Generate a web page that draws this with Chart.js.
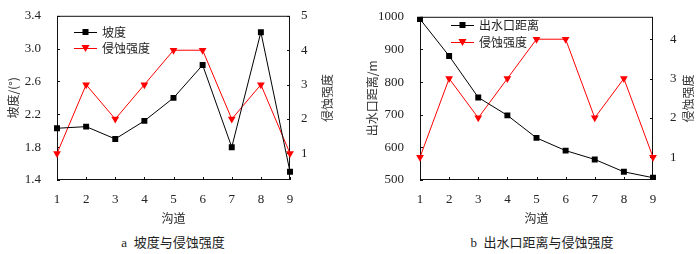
<!DOCTYPE html>
<html>
<head>
<meta charset="utf-8">
<script src="https://cdn.jsdelivr.net/npm/chart.js@4/dist/chart.umd.min.js"></script>
<style>
    body { margin: 0; background: #fff; width: 699px; height: 254px; overflow: hidden; position: relative;
           font-family: "Liberation Serif", "Noto Sans CJK SC", serif; color: #222; }
    .panel { position: absolute; top: 0; width: 349px; height: 230px; }
    .cap { position: absolute; top: 234px; width: 300px; text-align: center; font-size: 13px; line-height: 18px; }
</style>
</head>
<body>
<div class="panel" style="left:0"><canvas id="chartA" width="349" height="230"></canvas></div>
<div class="panel" style="left:350px"><canvas id="chartB" width="349" height="230"></canvas></div>
<div class="cap" style="left:23px">a&nbsp;&nbsp;坡度与侵蚀强度</div>
<div class="cap" style="left:392px">b&nbsp;&nbsp;出水口距离与侵蚀强度</div>

<script>
// Données
const gullies = ['1', '2', '3', '4', '5', '6', '7', '8', '9'];
const slope = [2.03, 2.05, 1.90, 2.12, 2.40, 2.80, 1.80, 3.20, 1.50];
const erosion = [1, 3, 2, 3, 4, 4, 2, 3, 1];
const outletDist = [993, 880, 753, 698, 629, 590, 563, 525, 507];

const slopeTicks = [1.4, 1.8, 2.2, 2.6, 3.0, 3.4];
const distTicks = [500, 600, 700, 800, 900, 1000];
const erosionTicksA = [1, 2, 3, 4, 5];
const erosionTicksB = [1, 2, 3, 4];

const SERIF = '"Liberation Serif", "Noto Sans CJK SC", serif';
const CJK = '"Noto Sans CJK SC", sans-serif';
const TEXT = '#222';

// cadre + petites graduations vers l'intérieur
const framePlugin = {
    id: 'frame',
    beforeDatasetsDraw(chart) {
        const a = chart.chartArea;
        const ctx = chart.ctx;
        ctx.save();
        ctx.strokeStyle = '#111';
        ctx.lineWidth = 1;
        ctx.strokeRect(a.left + 0.5, a.top + 0.5, a.right - a.left - 1, a.bottom - a.top - 1);
        ctx.beginPath();
        ['y', 'y1'].forEach(id => {
            const s = chart.scales[id];
            s.ticks.forEach(t => {
                const py = Math.round(s.getPixelForValue(t.value)) + 0.5;
                if (id === 'y') { ctx.moveTo(a.left, py); ctx.lineTo(a.left + 3, py); }
                else { ctx.moveTo(a.right, py); ctx.lineTo(a.right - 3, py); }
            });
        });
        const sx = chart.scales.x;
        gullies.forEach((g, i) => {
            const px = Math.round(sx.getPixelForValue(i)) + 0.5;
            ctx.moveTo(px, a.bottom);
            ctx.lineTo(px, a.bottom - 3);
        });
        ctx.stroke();
        ctx.restore();
    }
};

function drawMarker(ctx, style, x, y, color) {
    ctx.fillStyle = color;
    if (style === 'rect') {
        ctx.fillRect(x - 3, y - 3, 6, 6);
    } else {
        ctx.beginPath();
        ctx.moveTo(x - 4, y - 3);
        ctx.lineTo(x + 4, y - 3);
        ctx.lineTo(x, y + 4);
        ctx.closePath();
        ctx.fill();
    }
}

// légende dans la zone du graphique + titre de l'axe droit
const extrasPlugin = {
    id: 'extras',
    afterDraw(chart, args, opts) {
        const ctx = chart.ctx;
        ctx.save();
        chart.data.datasets.forEach((ds, i) => {
            const y = opts.legendY + i * opts.legendGap;
            ctx.strokeStyle = ds.borderColor;
            ctx.lineWidth = 1;
            ctx.beginPath();
            ctx.moveTo(opts.legendX, y + 0.5);
            ctx.lineTo(opts.legendX + 23, y + 0.5);
            ctx.stroke();
            drawMarker(ctx, ds.pointStyle, opts.legendX + 11.5, y, ds.borderColor);
            ctx.fillStyle = TEXT;
            ctx.font = '12px ' + CJK;
            ctx.textBaseline = 'middle';
            ctx.fillText(ds.label, opts.legendX + 28, y);
        });
        const a = chart.chartArea;
        ctx.translate(opts.rightTitleX, (a.top + a.bottom) / 2);
        ctx.rotate(-Math.PI / 2);
        ctx.textAlign = 'center';
        ctx.textBaseline = 'middle';
        ctx.font = '12px ' + CJK;
        ctx.fillStyle = '#333';
        ctx.fillText('侵蚀强度', 0, 0);
        ctx.restore();
    }
};

function makeChart(id, cfg) {
    const line = (label, data, color, style, axis) => ({
        label: label,
        data: data,
        yAxisID: axis,
        borderColor: color,
        backgroundColor: color,
        borderWidth: 1,
        pointStyle: style,
        pointRadius: style === 'rect' ? 4.2 : 4.5,
        pointRotation: style === 'triangle' ? 180 : 0,
        pointBorderWidth: 0,
        tension: 0
    });
    const fixTicks = list => scale => { scale.ticks = list.map(v => ({ value: v })); };

    return new Chart(document.getElementById(id), {
        type: 'line',
        data: {
            labels: gullies,
            datasets: [
                line(cfg.mainLabel, cfg.mainData, '#000000', 'rect', 'y'),
                line('侵蚀强度', erosion, '#ff0000', 'triangle', 'y1')
            ]
        },
        plugins: [framePlugin, extrasPlugin],
        options: {
            responsive: false,
            animation: false,
            layout: { padding: { top: 14 } },
            plugins: {
                legend: { display: false },
                tooltip: { enabled: false },
                extras: cfg.extras
            },
            scales: {
                x: {
                    offset: false,
                    afterFit: s => { s.height = 50; },
                    grid: { display: false },
                    border: { display: false },
                    ticks: { color: TEXT, padding: 4, font: { family: SERIF, size: 13 } },
                    title: { display: true, text: '沟道', color: TEXT, padding: { top: 0, bottom: 4 },
                             font: { family: CJK, size: 12 } }
                },
                y: {
                    position: 'left',
                    min: cfg.mainTicks[0],
                    max: cfg.mainTicks[cfg.mainTicks.length - 1],
                    afterBuildTicks: fixTicks(cfg.mainTicks),
                    afterFit: s => { s.width = cfg.leftW; },
                    grid: { display: false },
                    border: { display: false },
                    ticks: { color: TEXT, padding: 8, font: { family: SERIF, size: 13 },
                             callback: cfg.fmt },
                    title: { display: true, text: cfg.mainTitle, color: '#333',
                             padding: { top: cfg.leftTitlePad, bottom: 0 }, font: { family: CJK, size: 12 } }
                },
                y1: {
                    position: 'right',
                    min: cfg.erMin,
                    max: cfg.erMax,
                    afterBuildTicks: fixTicks(cfg.erTicks),
                    afterFit: s => { s.width = cfg.rightW; },
                    grid: { display: false },
                    border: { display: false },
                    ticks: { color: TEXT, padding: cfg.rightPad, font: { family: SERIF, size: 13 } }
                }
            }
        }
    });
}

makeChart('chartA', {
    mainLabel: '坡度', mainData: slope, mainTicks: slopeTicks, mainTitle: '坡度/(°)',
    fmt: v => v.toFixed(1), leftW: 57, rightW: 59, leftTitlePad: 6, rightPad: 3,
    erMin: 0.23, erMax: 5, erTicks: erosionTicksA,
    extras: { legendX: 74, legendY: 32, legendGap: 16, rightTitleX: 327 }
});

makeChart('chartB', {
    mainLabel: '出水口距离', mainData: outletDist, mainTicks: distTicks, mainTitle: '出水口距离/m',
    fmt: v => v, leftW: 70, rightW: 46, leftTitlePad: 15, rightPad: 9,
    erMin: 0.42, erMax: 4.57, erTicks: erosionTicksB,
    extras: { legendX: 101, legendY: 25, legendGap: 17, rightTitleX: 338 }
});
</script>
</body>
</html>
